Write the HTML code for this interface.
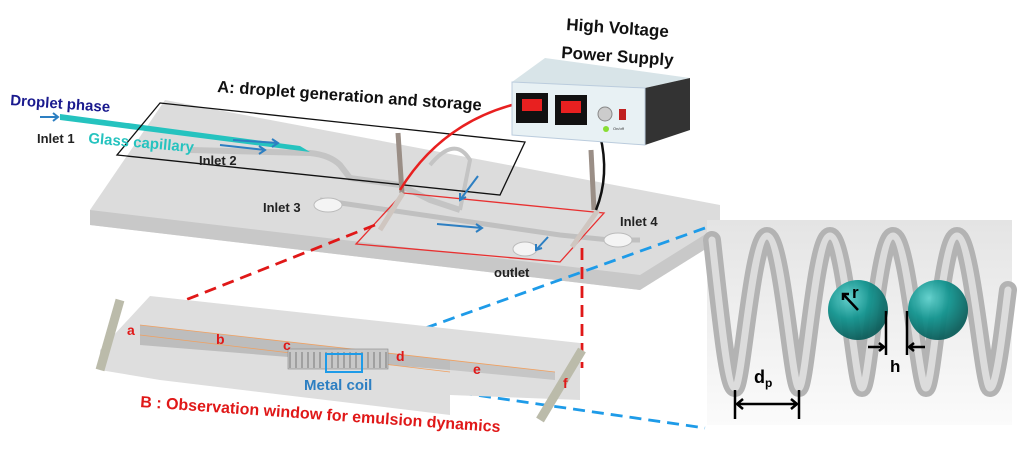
<!DOCTYPE html>
<html><head><style>
body{margin:0;background:#fff;}
svg{display:block;font-family:"Liberation Sans",sans-serif;}
</style></head><body>
<svg width="1024" height="457" viewBox="0 0 1024 457">
<defs>
<radialGradient id="ball" cx="0.35" cy="0.3" r="0.7"><stop offset="0" stop-color="#5fd0cc"/><stop offset="0.5" stop-color="#12948f"/><stop offset="1" stop-color="#0b5e5b"/></radialGradient>
<linearGradient id="bg" x1="0" y1="0" x2="0" y2="1"><stop offset="0" stop-color="#e4e4e4"/><stop offset="1" stop-color="#fbfbfb"/></linearGradient>
</defs>
<!-- main plate -->
<polygon points="165,100 720,205 720,240 640,290 90,225 90,210" fill="#dcdcdc"/>
<polygon points="90,210 640,275 720,225 720,240 640,290 90,225" fill="#c8c8c8"/>
<!-- channels -->
<path d="M190,150 L310,153 Q330,155 340,165 L350,178 L400,185 L430,200 L460,210" stroke="#c4c4c4" stroke-width="6" fill="none"/>
<path d="M320,200 L560,235 L610,240 L640,240" stroke="#c0c0c0" stroke-width="5" fill="none"/>
<ellipse cx="328" cy="205" rx="14" ry="7" fill="#f4f4f4" stroke="#bbb"/>
<ellipse cx="525" cy="249" rx="12" ry="7" fill="#f4f4f4" stroke="#bbb"/>
<ellipse cx="618" cy="240" rx="14" ry="7" fill="#f4f4f4" stroke="#bbb"/>
<path d="M430,165 Q455,135 470,160 L460,210" stroke="#c4c4c4" stroke-width="4" fill="none"/>
<!-- capillary -->
<polygon points="60,114 60,120 310,152 300,146" fill="#25c3bf"/>
<line x1="40" y1="117" x2="58" y2="117" stroke="#2d7fc2" stroke-width="2"/>
<path d="M53,113 L58,117 L53,121" stroke="#2d7fc2" stroke-width="2" fill="none"/>
<!-- region A black box -->
<polygon points="160,103 525,142 500,195 117,155" fill="none" stroke="#111" stroke-width="1.3"/>
<!-- red box -->
<polygon points="403,193 604,213 560,262 356,244" fill="none" stroke="#e83030" stroke-width="1.3"/>
<!-- electrodes -->
<line x1="398" y1="133" x2="402" y2="193" stroke="#9a8e86" stroke-width="5"/>
<line x1="403" y1="193" x2="380" y2="230" stroke="#cfc6c0" stroke-width="5"/>
<line x1="591" y1="150" x2="594" y2="210" stroke="#9a8e86" stroke-width="5"/>
<line x1="598" y1="210" x2="572" y2="247" stroke="#cfc6c0" stroke-width="5"/>
<!-- flow arrows -->
<g stroke="#2d7fc2" stroke-width="2" fill="none">
<path d="M233,140 L278,143 M272,139 L278,143 L272,147"/><path d="M220,145 L265,150 M259,146 L265,150 L259,154"/>
<path d="M478,176 L460,200 M460,193 L460,200 L466,197"/>
<path d="M437,224 L482,228 M476,224 L482,228 L476,232"/>
<path d="M548,237 L536,250 M536,244 L536,250 L542,248"/>
</g>
<!-- wires -->
<path d="M512,105 Q440,125 400,190" stroke="#e82020" stroke-width="2.5" fill="none"/>
<path d="M600,135 Q610,175 596,210" stroke="#111" stroke-width="2.5" fill="none"/>
<!-- power supply -->
<polygon points="512,82 545,58 690,78 645,88" fill="#d8e4e8"/>
<polygon points="645,88 690,78 690,130 645,145" fill="#333"/>
<polygon points="512,82 645,88 645,145 512,135" fill="#e8f1f4" stroke="#bcd" stroke-width="1"/>
<rect x="516" y="93" width="32" height="30" fill="#111"/><rect x="522" y="99" width="20" height="12" fill="#e82020"/>
<rect x="555" y="95" width="32" height="30" fill="#111"/><rect x="561" y="101" width="20" height="12" fill="#e82020"/>
<circle cx="605" cy="114" r="7" fill="#ccc" stroke="#888"/>
<rect x="619" y="109" width="7" height="11" fill="#c02020"/>
<circle cx="606" cy="129" r="3" fill="#8d3"/>
<text x="613" y="130" font-size="4" fill="#333">On/off</text>
<!-- labels -->
<text x="10" y="105" font-size="15" font-weight="bold" fill="#1a1a8e" transform="rotate(4 10 105)">Droplet phase</text>
<text x="37" y="143" font-size="13" font-weight="bold" fill="#222">Inlet 1</text>
<text x="88" y="143" font-size="15" font-weight="bold" fill="#25c3bf" transform="rotate(5 88 143)">Glass capillary</text>
<text x="199" y="165" font-size="13" font-weight="bold" fill="#222">Inlet 2</text>
<text x="217" y="92" font-size="16.5" font-weight="bold" fill="#111" transform="rotate(4 217 92)">A: droplet generation and storage</text>
<text x="566" y="30" font-size="17" font-weight="bold" fill="#111" transform="rotate(4 566 30)">High Voltage</text>
<text x="561" y="58" font-size="17" font-weight="bold" fill="#111" transform="rotate(4 561 58)">Power Supply</text>
<text x="263" y="212" font-size="13" font-weight="bold" fill="#222">Inlet 3</text>
<text x="620" y="226" font-size="13" font-weight="bold" fill="#222">Inlet 4</text>
<text x="494" y="277" font-size="13" font-weight="bold" fill="#222">outlet</text>
<!-- dashed connectors -->
<g stroke-width="2.8" fill="none" stroke-dasharray="12,7">
<path d="M375,225 L135,320" stroke="#e01818"/>
<path d="M582,248 L582,368" stroke="#e01818"/>
<path d="M705,228 L350,355" stroke="#1e9be8"/>
<path d="M385,382 L705,428" stroke="#1e9be8"/>
</g>
<!-- observation window -->
<polygon points="150,296 580,343 580,400 450,395 450,415 160,380 100,370 100,350" fill="#dedede"/>
<polygon points="140,325 450,360 450,370 140,345" fill="#bdbdbd"/>
<polygon points="450,360 555,372 555,380 450,370" fill="#c6c6c6"/>
<line x1="140" y1="325" x2="555" y2="372" stroke="#f0a060" stroke-width="0.8"/>
<line x1="140" y1="335" x2="450" y2="372" stroke="#f0a060" stroke-width="0.8"/>
<line x1="100" y1="370" x2="120" y2="300" stroke="#bba" stroke-width="9"/>
<line x1="540" y1="420" x2="582" y2="350" stroke="#bba" stroke-width="9"/>
<rect x="288" y="349" width="100" height="20" fill="#c8c8c8" stroke="#888" stroke-width="0.6"/>
<g stroke="#777" stroke-width="1"><path d="M290,352 v16 M296,352 v16 M302,352 v16 M308,352 v16 M314,352 v16 M320,352 v16 M326,352 v16 M332,352 v16 M338,352 v16 M344,352 v16 M350,352 v16 M356,352 v16 M362,352 v16 M368,352 v16 M374,352 v16 M380,352 v16 M386,352 v16"/></g>
<rect x="326" y="354" width="36" height="18" fill="none" stroke="#1e9be8" stroke-width="2"/>
<g font-size="14" font-weight="bold" fill="#e01818">
<text x="127" y="335">a</text><text x="216" y="344">b</text><text x="283" y="350">c</text><text x="396" y="361">d</text><text x="473" y="374">e</text><text x="563" y="388">f</text>
</g>
<text x="304" y="390" font-size="15" font-weight="bold" fill="#2d7fc2">Metal coil</text>
<text x="140" y="407" font-size="16" font-weight="bold" fill="#e01818" transform="rotate(4 140 407)">B : Observation window for emulsion dynamics</text>
<!-- inset -->
<rect x="707" y="220" width="305" height="205" fill="url(#bg)"/>
<g fill="none" stroke-linecap="round">
<path d="M712,240 C722,330 728,388 735,388 C742,388 752,236 767,236 C782,236 792,388 799,388 C806,388 815,236 830,236 C845,236 855,388 862,388 C869,388 878,236 893,236 C908,236 919,388 926,388 C933,388 942,236 957,236 C972,236 983,388 990,388 C997,388 1004,320 1008,290" stroke="#b3b3b3" stroke-width="18"/>
<path d="M712,240 C722,330 728,388 735,388 C742,388 752,236 767,236 C782,236 792,388 799,388 C806,388 815,236 830,236 C845,236 855,388 862,388 C869,388 878,236 893,236 C908,236 919,388 926,388 C933,388 942,236 957,236 C972,236 983,388 990,388 C997,388 1004,320 1008,290" stroke="#dcdcdc" stroke-width="7"/>
</g>
<circle cx="858" cy="310" r="30" fill="url(#ball)" opacity="0.95"/>
<circle cx="938" cy="310" r="30" fill="url(#ball)" opacity="0.95"/>
<g stroke="#000" stroke-width="2.5" fill="none">
<path d="M858,310 L843,294 M843,300 L843,294 L849,294"/>
<line x1="886" y1="311" x2="886" y2="355"/><line x1="907" y1="311" x2="907" y2="355"/>
<path d="M868,347 L884,347 M879,343 L884,347 L879,351"/>
<path d="M925,347 L909,347 M914,343 L909,347 L914,351"/>
<line x1="735" y1="390" x2="735" y2="419"/><line x1="799" y1="390" x2="799" y2="419"/>
<path d="M737,404 L797,404 M743,399 L737,404 L743,409 M791,399 L797,404 L791,409"/>
</g>
<text x="852" y="298" font-size="17" font-weight="bold">r</text>
<text x="890" y="372" font-size="17" font-weight="bold">h</text>
<text x="754" y="383" font-size="18" font-weight="bold">d<tspan font-size="12" dy="4">p</tspan></text>
</svg>
</body></html>
